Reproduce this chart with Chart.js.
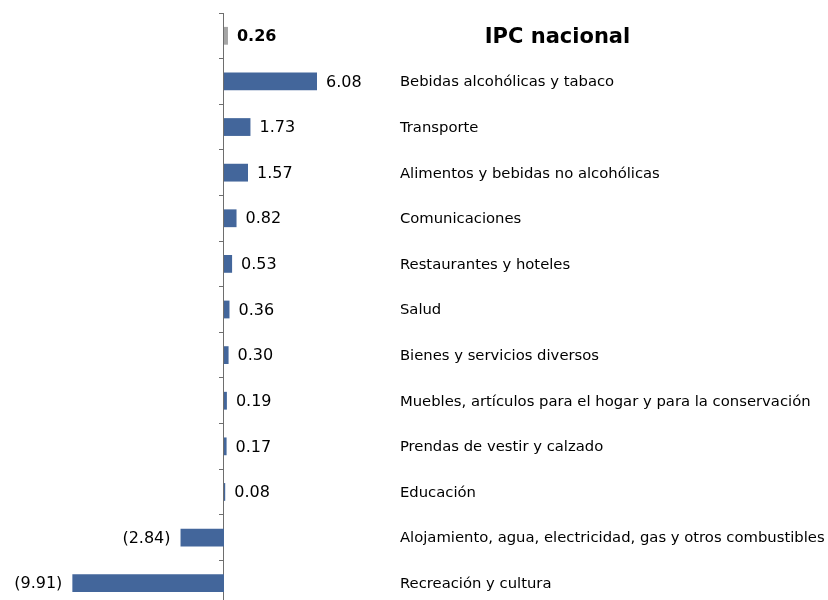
<!DOCTYPE html>
<html>
<head>
<meta charset="utf-8">
<script src="https://cdn.jsdelivr.net/npm/chart.js@4.4.1/dist/chart.umd.min.js"></script>
<style>
html,body{margin:0;padding:0;overflow:hidden;background:#fff;}
canvas{display:block;}
</style>
</head>
<body>
<canvas id="c" width="828" height="610" style="width:828px;height:610px"></canvas>
<script>
const categories = [
  "IPC nacional",
  "Bebidas alcohólicas y tabaco",
  "Transporte",
  "Alimentos y bebidas no alcohólicas",
  "Comunicaciones",
  "Restaurantes y hoteles",
  "Salud",
  "Bienes y servicios diversos",
  "Muebles, artículos para el hogar y para la conservación",
  "Prendas de vestir y calzado",
  "Educación",
  "Alojamiento, agua, electricidad, gas y otros combustibles",
  "Recreación y cultura"
];
const values = [0.26, 6.08, 1.73, 1.57, 0.82, 0.53, 0.36, 0.30, 0.19, 0.17, 0.08, -2.84, -9.91];
const barColors = values.map((v, i) => i === 0 ? "#A5A5A5" : "#43669B");

const FONT = "'DejaVu Sans', Verdana, sans-serif";

const labelPlugin = {
  id: "labels",
  afterDatasetsDraw(chart) {
    const ctx = chart.ctx;
    const meta = chart.getDatasetMeta(0);
    const xs = chart.scales.x;
    const ys = chart.scales.y;
    ctx.save();
    ctx.textBaseline = "middle";
    meta.data.forEach((bar, i) => {
      const v = values[i];
      const txt = v < 0 ? "(" + Math.abs(v).toFixed(2) + ")" : v.toFixed(2);
      ctx.fillStyle = "#000";
      ctx.font = (i === 0 ? "bold " : "") + "16px " + FONT;
      if (v < 0) {
        ctx.textAlign = "right";
        ctx.fillText(txt, bar.x - 10, bar.y + 1);
      } else {
        ctx.textAlign = "left";
        ctx.fillText(txt, bar.x + 9, bar.y + 1);
      }
    });
    categories.forEach((c, i) => {
      const y = ys.getPixelForValue(i);
      ctx.fillStyle = "#000";
      if (i === 0) {
        ctx.font = "bold 21px " + FONT;
        ctx.textAlign = "center";
        ctx.fillText(c, xs.getPixelForValue(21.8), y + 2);
      } else {
        ctx.font = "14.8px " + FONT;
        ctx.textAlign = "left";
        ctx.fillText(c, xs.getPixelForValue(11.5), y + 1);
      }
    });
    ctx.restore();
  }
};

new Chart(document.getElementById("c"), {
  type: "bar",
  data: {
    labels: categories,
    datasets: [{
      data: values,
      backgroundColor: barColors,
      borderWidth: 0,
      categoryPercentage: 1,
      barPercentage: 0.39
    }]
  },
  options: {
    indexAxis: "y",
    responsive: false,
    animation: false,
    devicePixelRatio: 1,
    layout: { padding: { top: 13, bottom: 4, left: 0, right: 0 } },
    plugins: { legend: { display: false }, tooltip: { enabled: false }, title: { display: false } },
    scales: {
      x: {
        display: false,
        min: -14.64,
        max: 39.48
      },
      y: {
        position: { x: 0 },
        offset: true,
        ticks: { display: false },
        grid: {
          offset: true,
          drawOnChartArea: false,
          drawTicks: true,
          tickLength: 4,
          color: "#6E6E6E"
        },
        border: { display: true, color: "#6E6E6E", width: 1 }
      }
    }
  },
  plugins: [labelPlugin]
});
</script>
</body>
</html>
